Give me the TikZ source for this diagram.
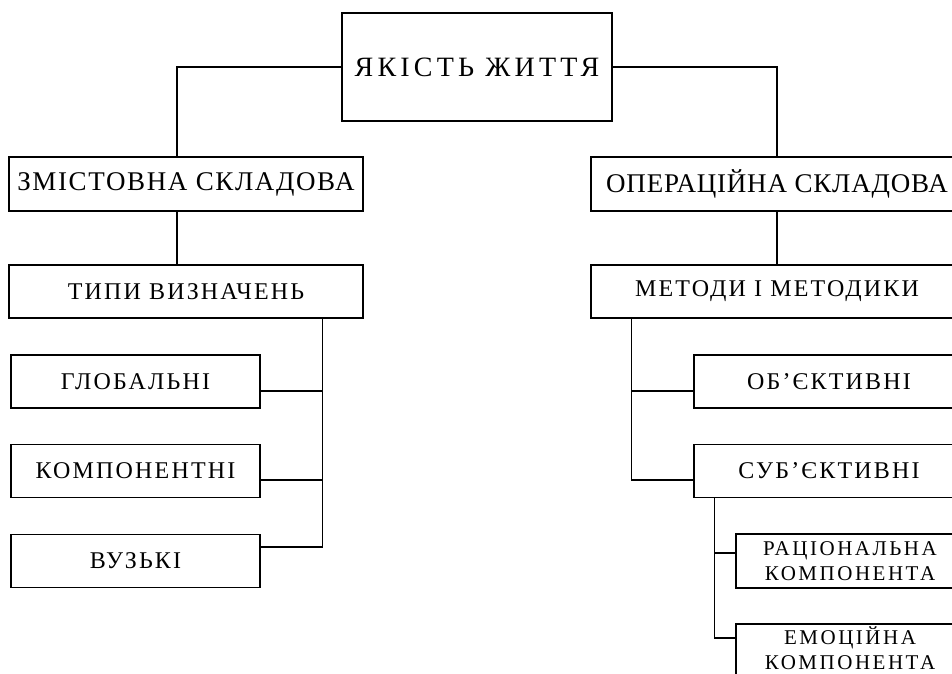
\documentclass[tikz,border=0pt]{standalone}
\usepackage{fontspec}
\setmainfont{Liberation Serif}
\tikzset{
  blok/.style={draw, line width=1.2pt, inner sep=0pt, minimum height=54pt, align=center},
  top/.style={font=\fontsize{28}{30}\selectfont\addfontfeatures{LetterSpace=15}},
  big/.style={font=\fontsize{27}{30}\selectfont\addfontfeatures{LetterSpace=6}},
  mid/.style={font=\fontsize{24}{26}\selectfont\addfontfeatures{LetterSpace=9}},
  small/.style={font=\fontsize{21}{25}\selectfont\addfontfeatures{LetterSpace=12}},
  link/.style={line width=1.2pt}
}
\begin{document}
\begin{tikzpicture}[x=1pt, y=-1pt]
  \useasboundingbox (0,0) rectangle (952,673);
  \clip (0,0) rectangle (952,673);

  % Nodes
  \node[blok, top, minimum width=270pt, minimum height=108pt] (life) at (477, 67) {ЯКІСТЬ ЖИТТЯ};
  \node[blok, big, minimum width=354pt] (zmist) at (186, 184) {ЗМІСТОВНА СКЛАДОВА};
  \node[blok, big, minimum width=372pt, font=\fontsize{27}{30}\selectfont\addfontfeatures{LetterSpace=3}] (oper) at (777, 184) {ОПЕРАЦІЙНА СКЛАДОВА};
  \node[blok, mid, minimum width=354pt, minimum height=53pt] (typy) at (186, 291.5) {ТИПИ ВИЗНАЧЕНЬ};
  \node[blok, mid, minimum width=372pt, minimum height=53pt] (metody) at (777, 291.5) {МЕТОДИ І МЕТОДИКИ};
  \node[blok, mid, minimum width=249pt, minimum height=53pt] (glob) at (135.5, 381.5) {ГЛОБАЛЬНІ};
  \node[blok, mid, minimum width=249pt, minimum height=53pt] (komp) at (135.5, 471) {КОМПОНЕНТНІ};
  \node[blok, mid, minimum width=249pt, minimum height=53pt] (vuz) at (135.5, 561) {ВУЗЬКІ};
  \node[blok, mid, minimum width=270pt, minimum height=53pt] (obj) at (829, 381.5) {ОБ’ЄКТИВНІ};
  \node[blok, mid, minimum width=270pt, minimum height=53pt] (sub) at (829, 471) {СУБ’ЄКТИВНІ};
  \node[blok, small, minimum width=228pt] (rac) at (850, 561) {РАЦІОНАЛЬНА\\КОМПОНЕНТА};
  \node[blok, small, minimum width=228pt, text depth=6pt] (emo) at (850, 651) {ЕМОЦІЙНА\\КОМПОНЕНТА};

  % Coordinates
  \coordinate (lbus) at ([xshift=-41pt]typy.south east);
  \coordinate (rbus) at ([xshift=41pt]metody.south west);
  \coordinate (sbus) at ([xshift=21pt]sub.south west);

  % Drawing
  \draw[link] (life.west) -| ([xshift=-9pt]zmist.north);
  \draw[link] (life.east) -| (oper.north);
  \draw[link] ([xshift=-9pt]zmist.south) -- ([xshift=-9pt]typy.north);
  \draw[link] (oper.south) -- (metody.north);
  \draw[link] (lbus) |- ([yshift=14pt]vuz.east);
  \draw[link] ([yshift=-9.5pt]glob.east) -- ([yshift=-9.5pt]lbus |- glob.east);
  \draw[link] ([yshift=-9pt]komp.east) -- ([yshift=-9pt]lbus |- komp.east);
  \draw[link] (rbus) |- ([yshift=-9pt]sub.west);
  \draw[link] ([yshift=-9.5pt]obj.west) -- ([yshift=-9.5pt]rbus |- obj.west);
  \draw[link] (sbus) |- ([yshift=13pt]emo.west);
  \draw[link] ([yshift=8pt]rac.west) -- ([yshift=8pt]sbus |- rac.west);
\end{tikzpicture}
\end{document}
